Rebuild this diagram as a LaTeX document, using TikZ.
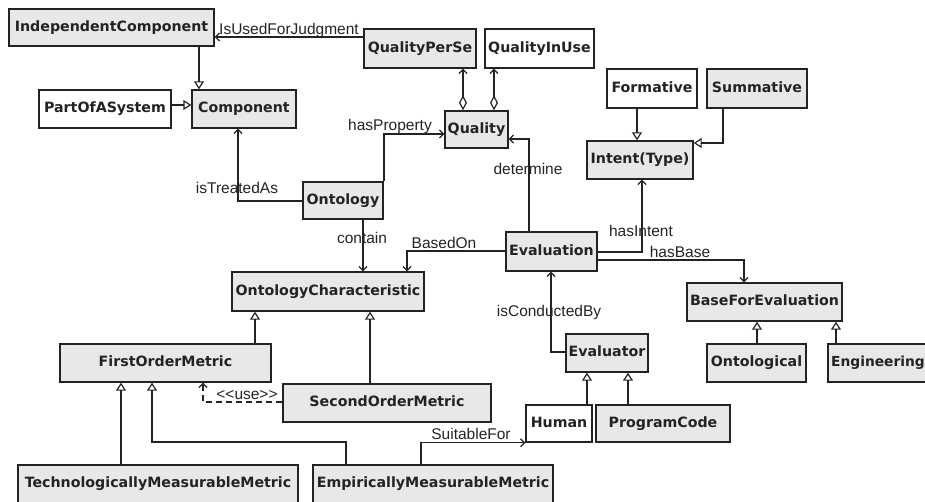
\documentclass[tikz,border=0pt]{standalone}
\usepackage{fontspec}
\newfontfamily\boxfont{DejaVu Sans}
\newfontfamily\lblfont{Liberation Sans}
\usetikzlibrary{arrows.meta}
\definecolor{boxgray}{RGB}{232,232,232}
\definecolor{ink}{RGB}{35,35,35}
\begin{document}
\begin{tikzpicture}[x=1pt,y=-1pt,
  cls/.style={draw=ink, line width=1.4pt, inner sep=0pt, font=\boxfont\bfseries\fontsize{14.2}{15}\selectfont, text=ink, text height=10.5pt, text depth=3pt},
  gcls/.style={cls, fill=boxgray},
  wcls/.style={cls, fill=white},
  conn/.style={draw=ink, line width=1.2pt},
  inh/.style={conn, -{Triangle[open, length=8pt, width=10pt]}},
  assoc/.style={conn, -{Straight Barb[length=4pt, width=8pt]}},
  agg/.style={conn, {Diamond[open, length=15pt, width=8pt]}-{Straight Barb[length=4pt, width=8pt]}},
  lbl/.style={font=\lblfont\fontsize{15.5}{15.5}\selectfont, text=ink, inner sep=0pt},
]
\useasboundingbox (0,0) rectangle (925,502);
\clip (0,0) rectangle (925,502);

% classes
\node[gcls, minimum width=205pt, minimum height=37pt] (IC) at (111.5,27.5) {IndependentComponent};
\node[wcls, minimum width=132pt, minimum height=38pt] (PoS) at (105,109) {PartOfASystem};
\node[gcls, minimum width=104pt, minimum height=38pt] (Comp) at (244,109) {Component};
\node[gcls, minimum width=112pt, minimum height=39pt] (QPS) at (420,48.5) {QualityPerSe};
\node[wcls, minimum width=109pt, minimum height=39pt] (QIU) at (539.5,48.5) {QualityInUse};
\node[gcls, minimum width=63pt, minimum height=37pt] (Q) at (476.5,129.5) {Quality};
\node[wcls, minimum width=90pt, minimum height=39pt] (Form) at (652,88.5) {Formative};
\node[gcls, minimum width=100pt, minimum height=39pt] (Summ) at (757,88.5) {Summative};
\node[gcls, minimum width=106pt, minimum height=38pt] (Intent) at (640,160) {Intent(Type)};
\node[gcls, minimum width=80pt, minimum height=37pt] (Onto) at (343,200.5) {Ontology};
\node[gcls, minimum width=91pt, minimum height=39pt] (Eval) at (551.5,251.5) {Evaluation};
\node[gcls, minimum width=192pt, minimum height=39pt] (OC) at (328,291.5) {OntologyCharacteristic};
\node[gcls, minimum width=155pt, minimum height=38pt] (BFE) at (764.5,302) {BaseForEvaluation};
\node[gcls, minimum width=82pt, minimum height=38pt] (Evr) at (607,353) {Evaluator};
\node[gcls, minimum width=211pt, minimum height=38pt] (FOM) at (165.5,363) {FirstOrderMetric};
\node[gcls, minimum width=99pt, minimum height=38pt] (Ontl) at (756.5,363) {Ontological};
\node[gcls, minimum width=100pt, minimum height=38pt, font=\boxfont\bfseries\fontsize{13.8}{15}\selectfont] (Eng) at (878,363) {Engineering};
\node[gcls, minimum width=208pt, minimum height=38pt] (SOM) at (387,403) {SecondOrderMetric};
\node[wcls, minimum width=66pt, minimum height=37pt] (Hum) at (559,423.5) {Human};
\node[gcls, minimum width=134pt, minimum height=37pt] (PC) at (663,423.5) {ProgramCode};
\node[gcls, minimum width=280pt, minimum height=38pt] (TMM) at (158,484) {TechnologicallyMeasurableMetric};
\node[gcls, minimum width=240pt, minimum height=38pt] (EMM) at (433,484) {EmpiricallyMeasurableMetric};

% bend coordinates
\coordinate (c1) at (199,0);
\coordinate (c2) at (0,105);
\coordinate (c3) at (0,37);
\coordinate (c4) at (463,0);
\coordinate (c5) at (494,0);
\coordinate (c6) at (637,0);
\coordinate (c7) at (723,143);
\coordinate (c8) at (642,252);
\coordinate (c9) at (744,260);
\coordinate (c10) at (757,0);
\coordinate (c11) at (836,0);
\coordinate (c12) at (384,134);
\coordinate (c13) at (238,201);
\coordinate (c14) at (363,0);
\coordinate (c15) at (407,251);
\coordinate (c16) at (529,139);
\coordinate (c17) at (551,352);
\coordinate (c18) at (587,0);
\coordinate (c19) at (628,0);
\coordinate (c20) at (421,442);
\coordinate (c21) at (255,0);
\coordinate (c22) at (370,0);
\coordinate (c23) at (121,0);
\coordinate (c24) at (346,442);
\coordinate (c25) at (152,442);
\coordinate (c26) at (203,402);

% generalizations
\draw[inh] (IC.south -| c1) -- (Comp.north -| c1);
\draw[inh] (PoS.east |- c2) -- (Comp.west |- c2);
\draw[inh] (Form.south -| c6) -- (Intent.north -| c6);
\draw[inh] (Summ.south -| c7) |- (Intent.east |- c7);
\draw[inh] (Ontl.north -| c10) -- (BFE.south -| c10);
\draw[inh] (Eng.north -| c11) -- (BFE.south -| c11);
\draw[inh] (Hum.north -| c18) -- (Evr.south -| c18);
\draw[inh] (PC.north -| c19) -- (Evr.south -| c19);
\draw[inh] (FOM.north -| c21) -- (OC.south -| c21);
\draw[inh] (SOM.north -| c22) -- (OC.south -| c22);
\draw[inh] (TMM.north -| c23) -- (FOM.south -| c23);
\draw[inh] (EMM.north -| c24) -- (c24) -- (c25) -- (FOM.south -| c25);

% aggregations
\draw[agg] (Q.north -| c4) -- (QPS.south -| c4);
\draw[agg] (Q.north -| c5) -- (QIU.south -| c5);

% associations
\draw[assoc] (QPS.west |- c3) -- (IC.east |- c3);
\draw[assoc] (Eval.east |- c8) -| (Intent.south -| c8);
\draw[assoc] (Eval.east |- c9) -| (BFE.north -| c9);
\draw[assoc] (Onto.north -| c12) |- (Q.west |- c12);
\draw[assoc] (Onto.west |- c13) -| (Comp.south -| c13);
\draw[assoc] (Onto.south -| c14) -- (OC.north -| c14);
\draw[assoc] (Eval.west |- c15) -| (OC.north -| c15);
\draw[assoc] (Eval.north -| c16) |- (Q.east |- c16);
\draw[assoc] (Evr.west |- c17) -| (Eval.south -| c17);
\draw[assoc] (EMM.north -| c20) |- (Hum.south west);
\draw[assoc, dashed, dash pattern=on 6pt off 4pt] (SOM.west |- c26) -| (FOM.south -| c26);

% labels
\node[lbl] (l1) at (289,30) {IsUsedForJudgment};
\node[lbl] (l2) at (390,126) {hasProperty};
\node[lbl] (l3) at (237,188) {isTreatedAs};
\node[lbl] (l4) at (362,238) {contain};
\node[lbl] (l5) at (444,243) {BasedOn};
\node[lbl] (l6) at (528,169) {determine};
\node[lbl] (l7) at (641,231) {hasIntent};
\node[lbl] (l8) at (680,252) {hasBase};
\node[lbl] (l9) at (549,312) {isConductedBy};
\node[lbl] (l10) at (471,434) {SuitableFor};
\node[lbl] (l11) at (247,395) {\textless\textless use\textgreater\textgreater};
\end{tikzpicture}
\end{document}
